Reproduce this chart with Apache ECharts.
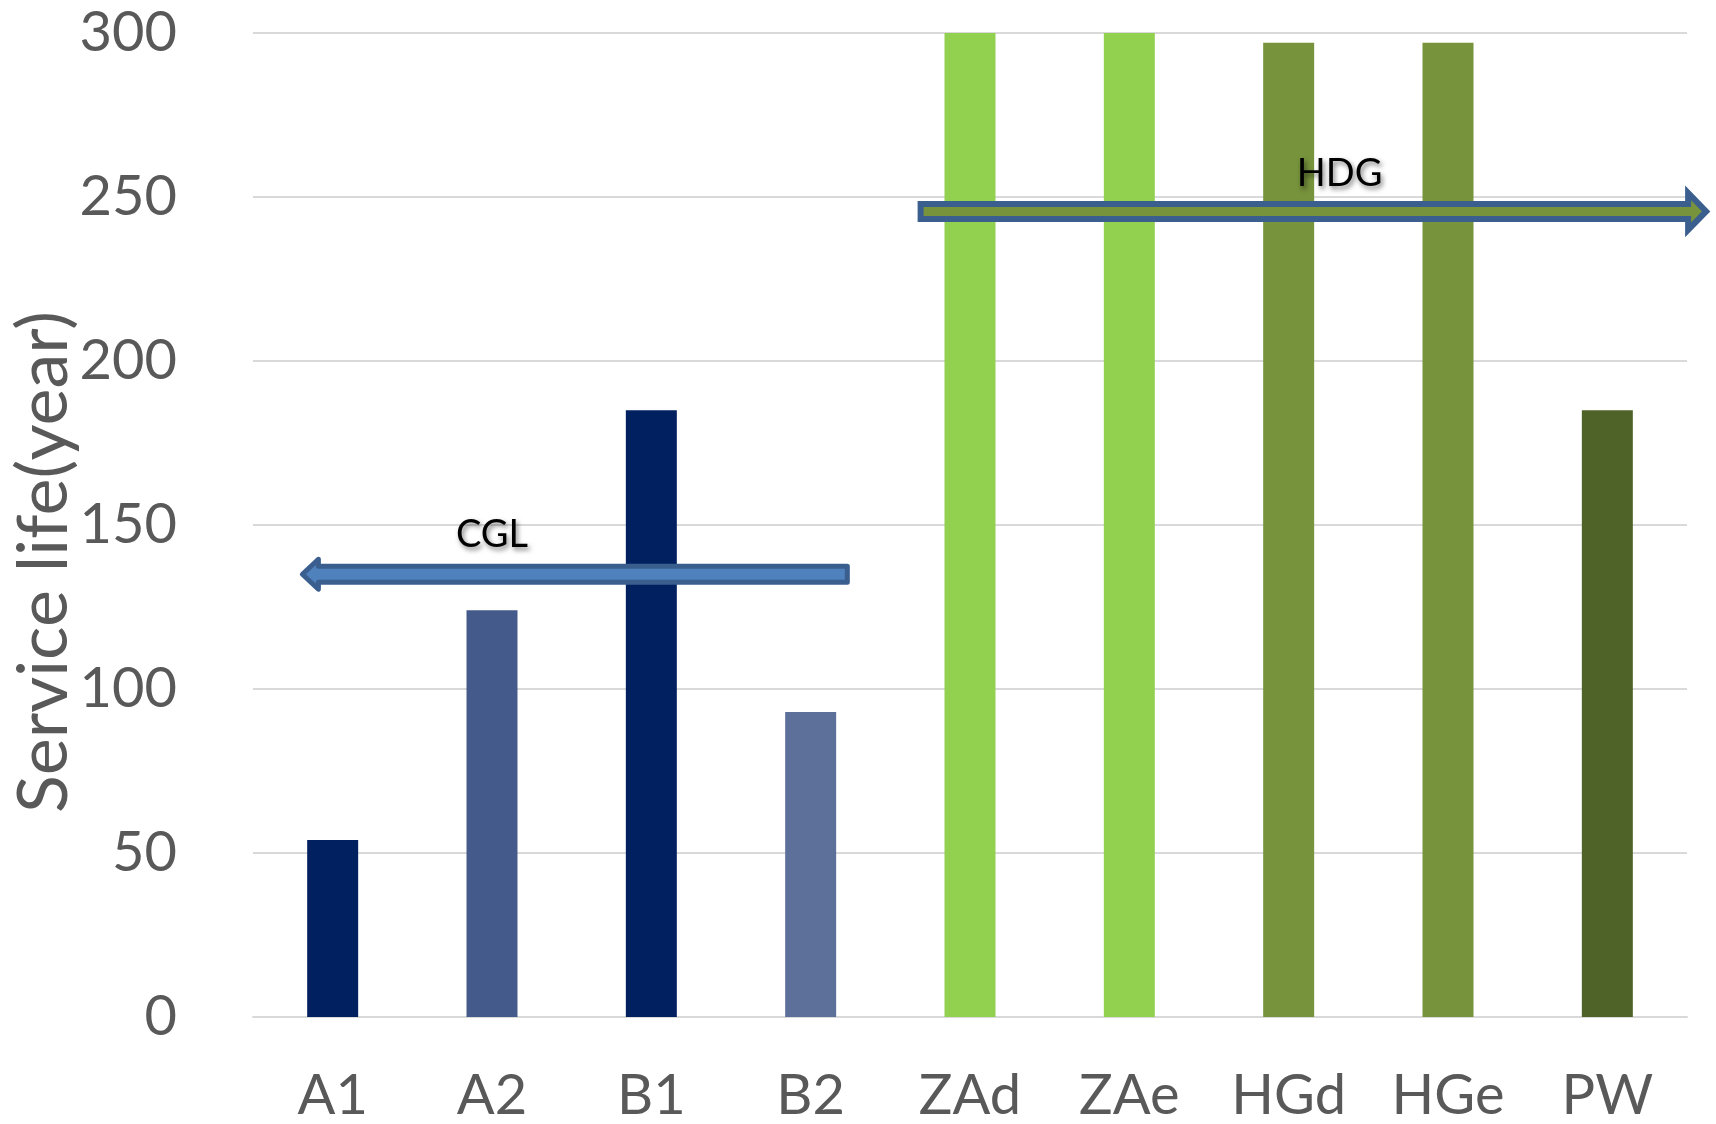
<!DOCTYPE html>
<html>
<head>
<meta charset="utf-8">
<script src="https://cdn.jsdelivr.net/npm/echarts@6/dist/echarts.min.js"></script>
<style>html,body{margin:0;padding:0;background:#fff}#c{width:1716px;height:1124px}</style>
</head>
<body>
<div id="c"></div>
<script>
const categories = ['A1','A2','B1','B2','ZAd','ZAe','HGd','HGe','PW'];
const serviceLife = [54, 124, 185, 93, 300, 300, 297, 297, 185];
const barColors = ['#002060','#445A8A','#002060','#5C7099','#92D050','#92D050','#77933C','#77933C','#4F6228'];
const yTicks = [0, 50, 100, 150, 200, 250, 300];
// arrow annotations (x in category units, y in years)
const arrowLabels = ['CGL', 'HDG'];
const arrowFrom = [3.23, 3.69];
const arrowTo = [-0.19, 8.62];
const arrowY = [135, 245.6];
const arrowLabelX = [1.0, 6.32];
const arrowLabelY = [147, 257];

const arrowStyle = [
  { fill: '#4F81BD', stroke: '#3A5F8F', lw: 5, h: 8, H: 15, L: 16, join: 'round' },
  { fill: '#77933C', stroke: '#3A5F8F', lw: 6, h: 7.5, H: 18.5, L: 18, join: 'miter' }
];

const chart = echarts.init(document.getElementById('c'));
const FONT = 'Lato';
const arrowData = arrowLabels.map((n, i) => ({
  name: n,
  value: [arrowFrom[i], arrowTo[i], arrowY[i], arrowLabelX[i], arrowLabelY[i], i]
}));

chart.setOption({
  animation: false,
  grid: { left: 253, right: 29, top: 33, bottom: 107, containLabel: false, outerBoundsMode: 'none' },
  xAxis: {
    type: 'category',
    data: categories,
    axisTick: { show: false },
    axisLine: { show: true, lineStyle: { color: '#D9D9D9', width: 2 } },
    axisLabel: { color: '#595959', fontSize: 56, fontFamily: FONT, margin: 51 }
  },
  yAxis: {
    type: 'value',
    min: 0, max: 300, interval: 50,
    name: 'Service life(year)',
    nameLocation: 'middle',
    nameGap: 174,
    nameMoveOverlap: false,
    nameTextStyle: { color: '#595959', fontSize: 70, fontFamily: FONT, padding: [0, 74, 0, 0] },
    axisLine: { show: false },
    axisTick: { show: false },
    axisLabel: { color: '#595959', fontSize: 56, fontFamily: FONT, margin: 76,
      formatter: v => yTicks.includes(v) ? String(v) : '' },
    splitLine: { lineStyle: { color: '#D9D9D9', width: 2 } }
  },
  series: [
    {
      type: 'bar',
      barWidth: '32%',
      data: serviceLife.map((v, i) => ({ value: v, itemStyle: { color: barColors[i] } }))
    },
    {
      type: 'custom',
      clip: false,
      z: 10,
      data: arrowData,
      renderItem: function (params, api) {
        const idx = api.value(5);
        const st = arrowStyle[idx];
        const y = api.value(2);
        const c0 = api.coord([0, y]);
        const bw = api.size([1, 0])[0];
        const xs = c0[0] + api.value(0) * bw;
        const xt = c0[0] + api.value(1) * bw;
        const yc = c0[1];
        const dir = xt > xs ? 1 : -1;
        const xb = xt - dir * st.L;
        const pts = [[xs, yc - st.h], [xb, yc - st.h], [xb, yc - st.H], [xt, yc], [xb, yc + st.H], [xb, yc + st.h], [xs, yc + st.h]];
        const lp = api.coord([0, api.value(4)]);
        const lx = c0[0] + api.value(3) * bw;
        return {
          type: 'group',
          children: [
            {
              type: 'polygon',
              shape: { points: pts },
              style: { fill: st.fill, stroke: st.stroke, lineWidth: st.lw, lineJoin: st.join }
            },
            {
              type: 'text',
              x: lx, y: lp[1],
              style: {
                text: arrowLabels[idx],
                fill: '#000', fontSize: 38, fontFamily: FONT,
                align: 'center', verticalAlign: 'middle',
                textShadowColor: 'rgba(0,0,0,0.5)', textShadowBlur: 5,
                textShadowOffsetX: 2, textShadowOffsetY: 3
              }
            }
          ]
        };
      }
    }
  ]
});
</script>
</body>
</html>
